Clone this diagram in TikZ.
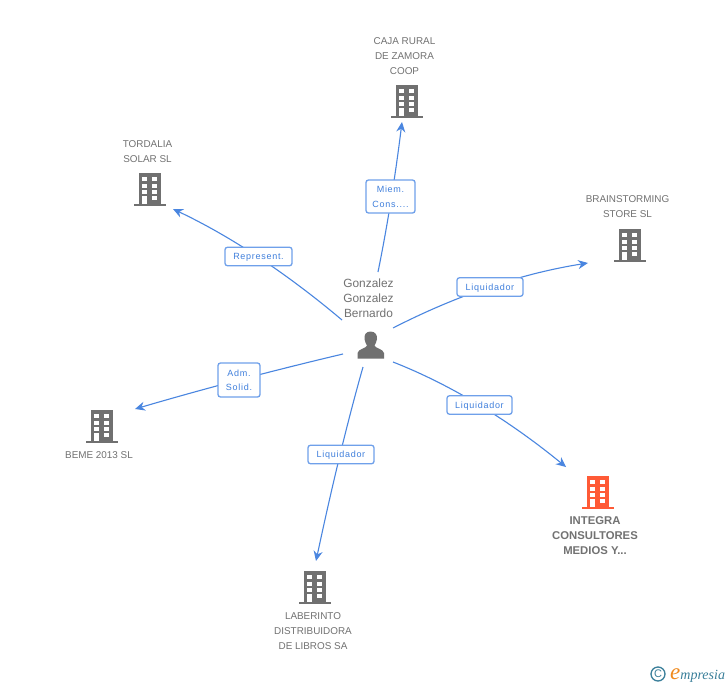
\documentclass[tikz,border=0pt]{standalone}
\usepackage{fontspec}
\setmainfont{Liberation Sans}
\newfontfamily\lblfont[LetterSpace=8]{Liberation Sans}
\newfontfamily\logofont{Liberation Serif}
\usetikzlibrary{arrows.meta,calc}
\definecolor{edgeblue}{HTML}{4A86E0}
\definecolor{boxblue}{HTML}{6FA0EA}
\definecolor{lbltext}{HTML}{3F7FDC}
\definecolor{grayicon}{HTML}{707070}
\definecolor{txtgray}{HTML}{727272}
\definecolor{hot}{HTML}{FF5A36}
\definecolor{logoteal}{HTML}{3A7F9A}
\definecolor{logoorange}{HTML}{F08A1E}
\tikzset{
  x=1pt,y=-1pt,
  edgeline/.style={draw=edgeblue,line width=1.1pt,-{Stealth[length=10pt,width=9pt]}},
  relbox/.style={draw=boxblue,line width=1.3pt,rounded corners=2.5pt,fill=white,inner sep=0pt,text=lbltext,
    font=\lblfont\fontsize{9}{14.5}\selectfont,align=center,minimum height=18.5pt,text depth=0pt},
  orgname/.style={text=txtgray,font=\fontsize{9.9}{15}\selectfont,align=center,inner sep=0pt},
  hotname/.style={text=txtgray,font=\bfseries\fontsize{11.3}{15}\selectfont,align=center,inner sep=0pt},
  pname/.style={text=txtgray,font=\fontsize{11.9}{15}\selectfont,align=center,inner sep=0pt},
  building/.pic={
    \fill[pic actions] (-11,-33) rectangle (11,-2);
    \fill[pic actions] (-16,-2) rectangle (16,0);
    \fill[white] (-7.7,-29) rectangle (-3,-25);
    \fill[white] (2.3,-29) rectangle (7,-25);
    \fill[white] (-7.7,-22.3) rectangle (-3,-18.3);
    \fill[white] (2.3,-22.3) rectangle (7,-18.3);
    \fill[white] (-7.7,-15.7) rectangle (-3,-11.7);
    \fill[white] (2.3,-15.7) rectangle (7,-11.7);
    \fill[white] (-7.7,-9.7) rectangle (-3,-1.7);
    \fill[white] (2.3,-9.7) rectangle (7,-5.7);
  },
}
\newcommand{\curved}[3]{\draw[edgeline] (#1) .. controls ($(#1)!0.667!(#2)$) and ($(#3)!0.667!(#2)$) .. (#3);}
\begin{document}
\begin{tikzpicture}
\useasboundingbox (0,0) rectangle (728,685);
\fill[white] (0,0) rectangle (728,685);

% buildings
\pic[fill=grayicon] at (407,118) {building};
\pic[fill=grayicon] at (150,206) {building};
\pic[fill=grayicon] at (630,262) {building};
\pic[fill=grayicon] at (102,443) {building};
\pic[fill=hot] at (598,509) {building};
\pic[fill=grayicon] at (315,604) {building};

% person
\fill[grayicon] (370.5,331.5) .. controls (365.5,331.5) and (364,335.5) .. (364.5,339)
  .. controls (365,342) and (366,344) .. (367,345.5) .. controls (367,348) and (358,349) .. (357.5,353)
  -- (357.5,358.5) -- (384,358.5) -- (384,353) .. controls (383.5,349) and (374.5,348) .. (374.5,345.5)
  .. controls (375.5,344) and (376.5,342) .. (377,339) .. controls (377.5,335.5) and (375.5,331.5) .. (370.5,331.5) -- cycle;

% texts
\node[orgname] (caja) at (404.5,56) {CAJA RURAL\\DE ZAMORA\\COOP};
\node[orgname] (tordalia) at (147.5,151.5) {TORDALIA\\SOLAR SL};
\node[orgname] (brain) at (627.5,207) {BRAINSTORMING\\STORE SL};
\node[orgname] (beme) at (99,455.5) {BEME 2013 SL};
\node[hotname] (integra) at (595,536) {INTEGRA\\CONSULTORES\\MEDIOS Y...};
\node[orgname] (laberinto) at (313,631.5) {LABERINTO\\DISTRIBUIDORA\\DE LIBROS SA};
\node[pname] (person) at (368.5,298) {Gonzalez\\Gonzalez\\Bernardo};

% connector ends
\coordinate (s1) at (378,272); \coordinate (e1) at (402,122); \coordinate (c1) at (392,203);
\coordinate (s2) at (342,320); \coordinate (e2) at (173,209); \coordinate (c2) at (258.5,249.5);
\coordinate (s3) at (393,328); \coordinate (e3) at (588,263); \coordinate (c3) at (489.5,278.5);
\coordinate (s4) at (343,354); \coordinate (e4) at (135,409); \coordinate (c4) at (239,378.5);
\coordinate (s5) at (363,367); \coordinate (e5) at (316,561); \coordinate (c5) at (340.5,446);
\coordinate (s6) at (393,362); \coordinate (e6) at (566,467); \coordinate (c6) at (478.5,395.5);

\curved{s1}{c1}{e1}
\curved{s2}{c2}{e2}
\curved{s3}{c3}{e3}
\curved{s4}{c4}{e4}
\curved{s5}{c5}{e5}
\curved{s6}{c6}{e6}

% relation labels
\node[relbox,minimum width=49pt,minimum height=33pt] (l1) at (390.5,196.5) {Miem.\\Cons....};
\node[relbox,minimum width=67pt] (l2) at (258.5,256.5) {Represent.};
\node[relbox,minimum width=66pt] (l3) at (490,287) {Liquidador};
\node[relbox,minimum width=42pt,minimum height=34pt] (l4) at (239,380) {Adm.\\Solid.};
\node[relbox,minimum width=66pt] (l5) at (341,454.5) {Liquidador};
\node[relbox,minimum width=65pt] (l6) at (479.5,405) {Liquidador};

% logo
\node[text=logoteal,inner sep=0pt,font=\fontsize{11}{11}\selectfont] (copy) at (658,674) {C};
\draw[logoteal,line width=1.3pt] (copy) circle (7);
\node[inner sep=0pt,anchor=base west] (brand) at (670,679) {\logofont\itshape{\color{logoorange}\fontsize{23}{23}\selectfont e}{\color{logoteal}\fontsize{14}{14}\selectfont mpresia}};
\end{tikzpicture}
\end{document}
